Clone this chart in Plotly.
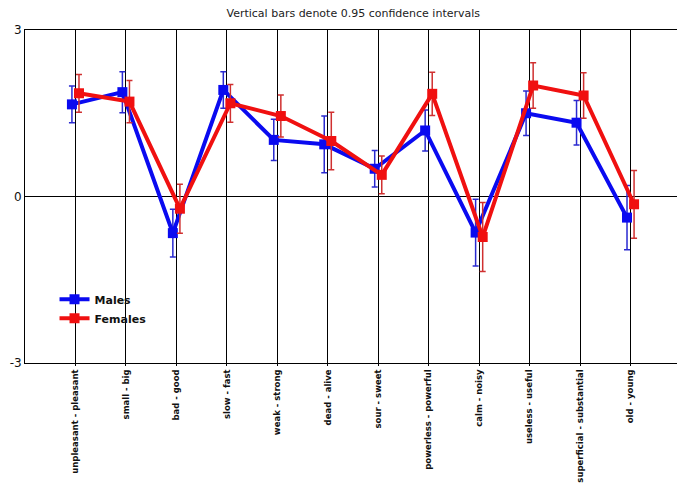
import plotly.graph_objects as go

categories = ["unpleasant - pleasant", "small - big", "bad - good", "slow - fast",
              "weak - strong", "dead - alive", "sour - sweet", "powerless - powerful",
              "calm - noisy", "useless - useful", "superficial - substantial", "old - young"]

males = [1.66, 1.88, -0.66, 1.92, 1.02, 0.94, 0.50, 1.19, -0.65, 1.50, 1.33, -0.38]
males_ci = [0.33, 0.37, 0.43, 0.33, 0.37, 0.51, 0.33, 0.37, 0.60, 0.40, 0.40, 0.58]

females = [1.86, 1.71, -0.22, 1.68, 1.45, 1.00, 0.39, 1.85, -0.73, 2.00, 1.82, -0.14]
females_ci = [0.34, 0.38, 0.44, 0.34, 0.38, 0.52, 0.34, 0.39, 0.62, 0.41, 0.41, 0.61]

y_ticks = [-3, 0, 3]
y_ticktext = ["-3", "0", "3"]

pos = list(range(len(categories)))

fig = go.Figure()

fig.add_trace(go.Scatter(
    x=[p - 0.07 for p in pos], y=males, name="Males", mode="lines+markers",
    line=dict(color="#0a0af0", width=4),
    marker=dict(symbol="square", size=10, color="#0a0af0"),
    error_y=dict(type="data", array=males_ci, color="#2a2ad0", thickness=1.5, width=3),
))

fig.add_trace(go.Scatter(
    x=[p + 0.07 for p in pos], y=females, name="Females", mode="lines+markers",
    line=dict(color="#f01010", width=4),
    marker=dict(symbol="square", size=10, color="#f01010"),
    error_y=dict(type="data", array=females_ci, color="#d03030", thickness=1.5, width=3),
))

# page body adds an 8px offset, so the figure is a bit smaller than the window
fig.update_layout(
    width=677, height=481,
    margin=dict(l=17, r=4, t=22, b=126),
    paper_bgcolor="white", plot_bgcolor="white",
    title=dict(text="Vertical bars denote 0.95 confidence intervals", x=0.51, y=0.997,
               xanchor="center", yanchor="top",
               font=dict(family="DejaVu Sans", size=11, color="#222")),
    xaxis=dict(range=[-1, 12], tickvals=pos, ticktext=categories, tickangle=-90,
               automargin=False,
               showgrid=True, gridcolor="black", gridwidth=1,
               showline=True, linecolor="black", linewidth=1, mirror=True,
               ticks="outside", ticklen=2, tickcolor="black", zeroline=False,
               tickfont=dict(family="DejaVu Sans", size=8.5, color="#111", weight="bold")),
    yaxis=dict(range=[-3, 3], tickvals=y_ticks, ticktext=y_ticktext, showgrid=False,
               automargin=False,
               zeroline=True, zerolinecolor="black", zerolinewidth=1,
               showline=True, linecolor="black", linewidth=1, mirror=True,
               ticks="", tickfont=dict(family="DejaVu Sans", size=12, color="#111")),
    legend=dict(x=0.045, y=0.235, xanchor="left", yanchor="top", bgcolor="rgba(0,0,0,0)",
                font=dict(family="DejaVu Sans", size=11, color="#111", weight="bold"),
                tracegroupgap=0, itemwidth=30),
)

fig.write_html("out.html")
